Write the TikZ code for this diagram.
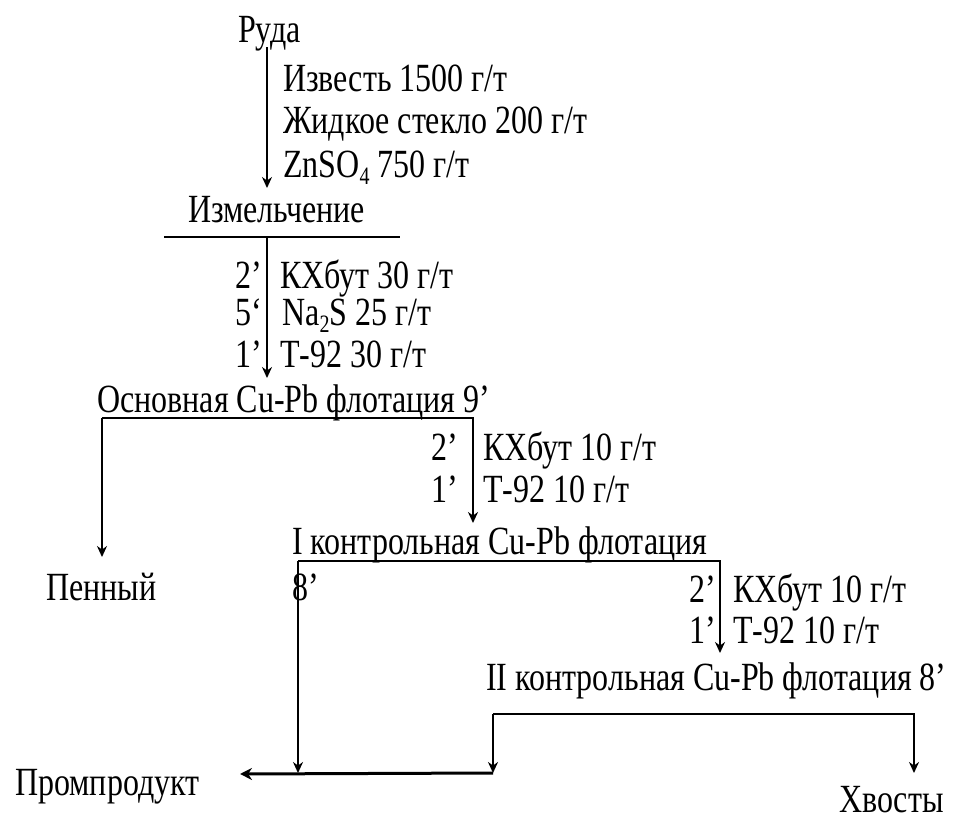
\documentclass[tikz,border=0pt]{standalone}
\usepackage{fontspec}
\setmainfont{Liberation Serif}[FakeStretch=0.80]
\usetikzlibrary{arrows.meta}
\newcommand{\chemsub}[1]{\raisebox{-0.18em}{\fontsize{25}{25}\selectfont #1}}

\begin{document}
\begin{tikzpicture}[x=1pt,y=-1pt,
    lbl/.style={inner sep=0pt, anchor=base west, text height=0.68em, text depth=0.17em,
      font=\fontsize{40}{44}\selectfont},
    tm/.style={lbl, anchor=base east},
    flow/.style={line width=2pt, -{Stealth[length=11pt,width=10pt]}},
    pipe/.style={line width=2pt},
    thickflow/.style={line width=3pt, -{Stealth[length=12pt,width=12pt]}}]

    \useasboundingbox (0,0) rectangle (954,819);

    % Ore and grinding
    \node[lbl] (ruda) at (238,42) {Руда};
    \node[lbl] (izv) at (283,91) {Известь 1500 г/т};
    \node[lbl] (zhid) at (283,133) {Жидкое стекло 200 г/т};
    \node[lbl] (znso) at (283,177) {ZnSO\chemsub{4} 750 г/т};
    \node[lbl] (izm) at (188,222) {Измельчение};

    \coordinate (rudaOut) at (267,47);
    \coordinate (izmIn) at (267,188);
    \draw[flow] (rudaOut) -- (izmIn);

    \coordinate (izmL) at (164,237);
    \coordinate (izmR) at (400,237);
    \coordinate (izmOut) at (267,237);
    \draw[pipe] (izmL) -- (izmR);

    % Basic Cu-Pb flotation
    \node[tm] (t1) at (262,288) {2’};
    \node[lbl] (r1) at (280,288) {КХбут 30 г/т};
    \node[tm] (t2) at (262,325) {5‘};
    \node[lbl] (r2) at (282,325) {Na\chemsub{2}S 25 г/т};
    \node[tm] (t3) at (262,367) {1’};
    \node[lbl] (r3) at (280,367) {Т-92 30 г/т};
    \node[lbl] (osn) at (97,412) {Основная Cu-Pb флотация 9’};

    \coordinate (osnIn) at (267,378);
    \draw[flow] (izmOut) -- (osnIn);

    \coordinate (osnL) at (102,418);
    \coordinate (osnR) at (473,418);
    \coordinate (penIn) at (102,557);
    \coordinate (k1In) at (473,523);
    \draw[flow] (osnL) -- (penIn);
    \draw[flow] (osnL) -- (osnR) -- (k1In);

    \node[lbl] (pen) at (46,600) {Пенный};

    % I control flotation
    \node[tm] (t4) at (458,460) {2’};
    \node[lbl] (r4) at (483,460) {КХбут 10 г/т};
    \node[tm] (t5) at (458,502) {1’};
    \node[lbl] (r5) at (483,502) {Т-92 10 г/т};
    \node[lbl] (k1) at (292,554) {I контрольная Cu-Pb флотация};
    \node[lbl] (k1t) at (292,600) {8’};

    \coordinate (k1L) at (298,561);
    \coordinate (k1R) at (720,561);
    \coordinate (k1Down) at (298,773);
    \coordinate (k2In) at (720,653);
    \draw[flow] (k1L) -- (k1Down);
    \draw[flow] (k1L) -- (k1R) -- (k2In);

    % II control flotation
    \node[tm] (t6) at (716,602) {2’};
    \node[lbl] (r6) at (733,602) {КХбут 10 г/т};
    \node[tm] (t7) at (716,643) {1’};
    \node[lbl] (r7) at (733,643) {Т-92 10 г/т};
    \node[lbl] (k2) at (486,690) {II контрольная Cu-Pb флотация 8’};

    \coordinate (k2L) at (493,714);
    \coordinate (k2R) at (914,714);
    \coordinate (k2Down) at (493,773);
    \coordinate (xvIn) at (914,773);
    \draw[flow] (k2L) -- (k2Down);
    \draw[flow] (k2L) -- (k2R) -- (xvIn);

    % Middlings and tailings
    \coordinate (pmIn) at (240,774);
    \draw[thickflow] (k2Down) -- (pmIn);
    \node[lbl] (pm) at (15,795) {Промпродукт};
    \node[lbl] (xv) at (839,812) {Хвосты};

\end{tikzpicture}
\end{document}
